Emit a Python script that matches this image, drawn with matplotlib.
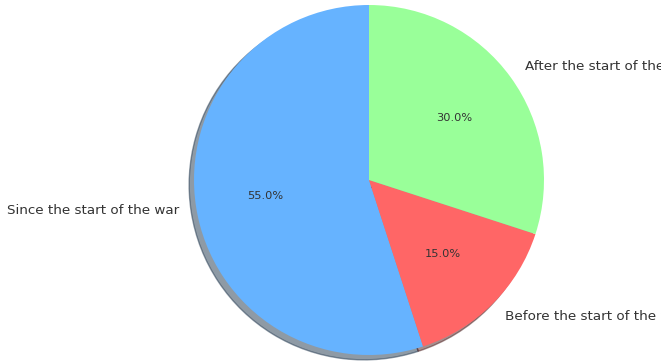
import matplotlib.pyplot as plt

labels = ['Since the start of the war', 'Before the start of the war', 'After the start of the war']
sizes = [55, 15, 30]
colors = ['#66b3ff', '#ff6666', '#99ff99']

fig = plt.figure(figsize=(6.61, 3.63), dpi=100)
ax = fig.add_axes([0, 0, 1, 1])
wedges, texts, autotexts = ax.pie(sizes, labels=labels, colors=colors, autopct='%1.1f%%',
                                  shadow=True, startangle=90,
                                  textprops={'color': '#333333', 'fontsize': 9})
for t in texts:
    t.set_fontsize(9.7)
for t in autotexts:
    t.set_fontsize(8.2)

# center the pie in the canvas, letting the long labels run off the edge
r = 175.0
cx, cy = 369.0, 180.0
ax.set_xlim(-cx / r, (661 - cx) / r)
ax.set_ylim(-(363 - cy) / r, cy / r)
ax.set_aspect('auto')

fig.savefig('out.png', dpi=100)
